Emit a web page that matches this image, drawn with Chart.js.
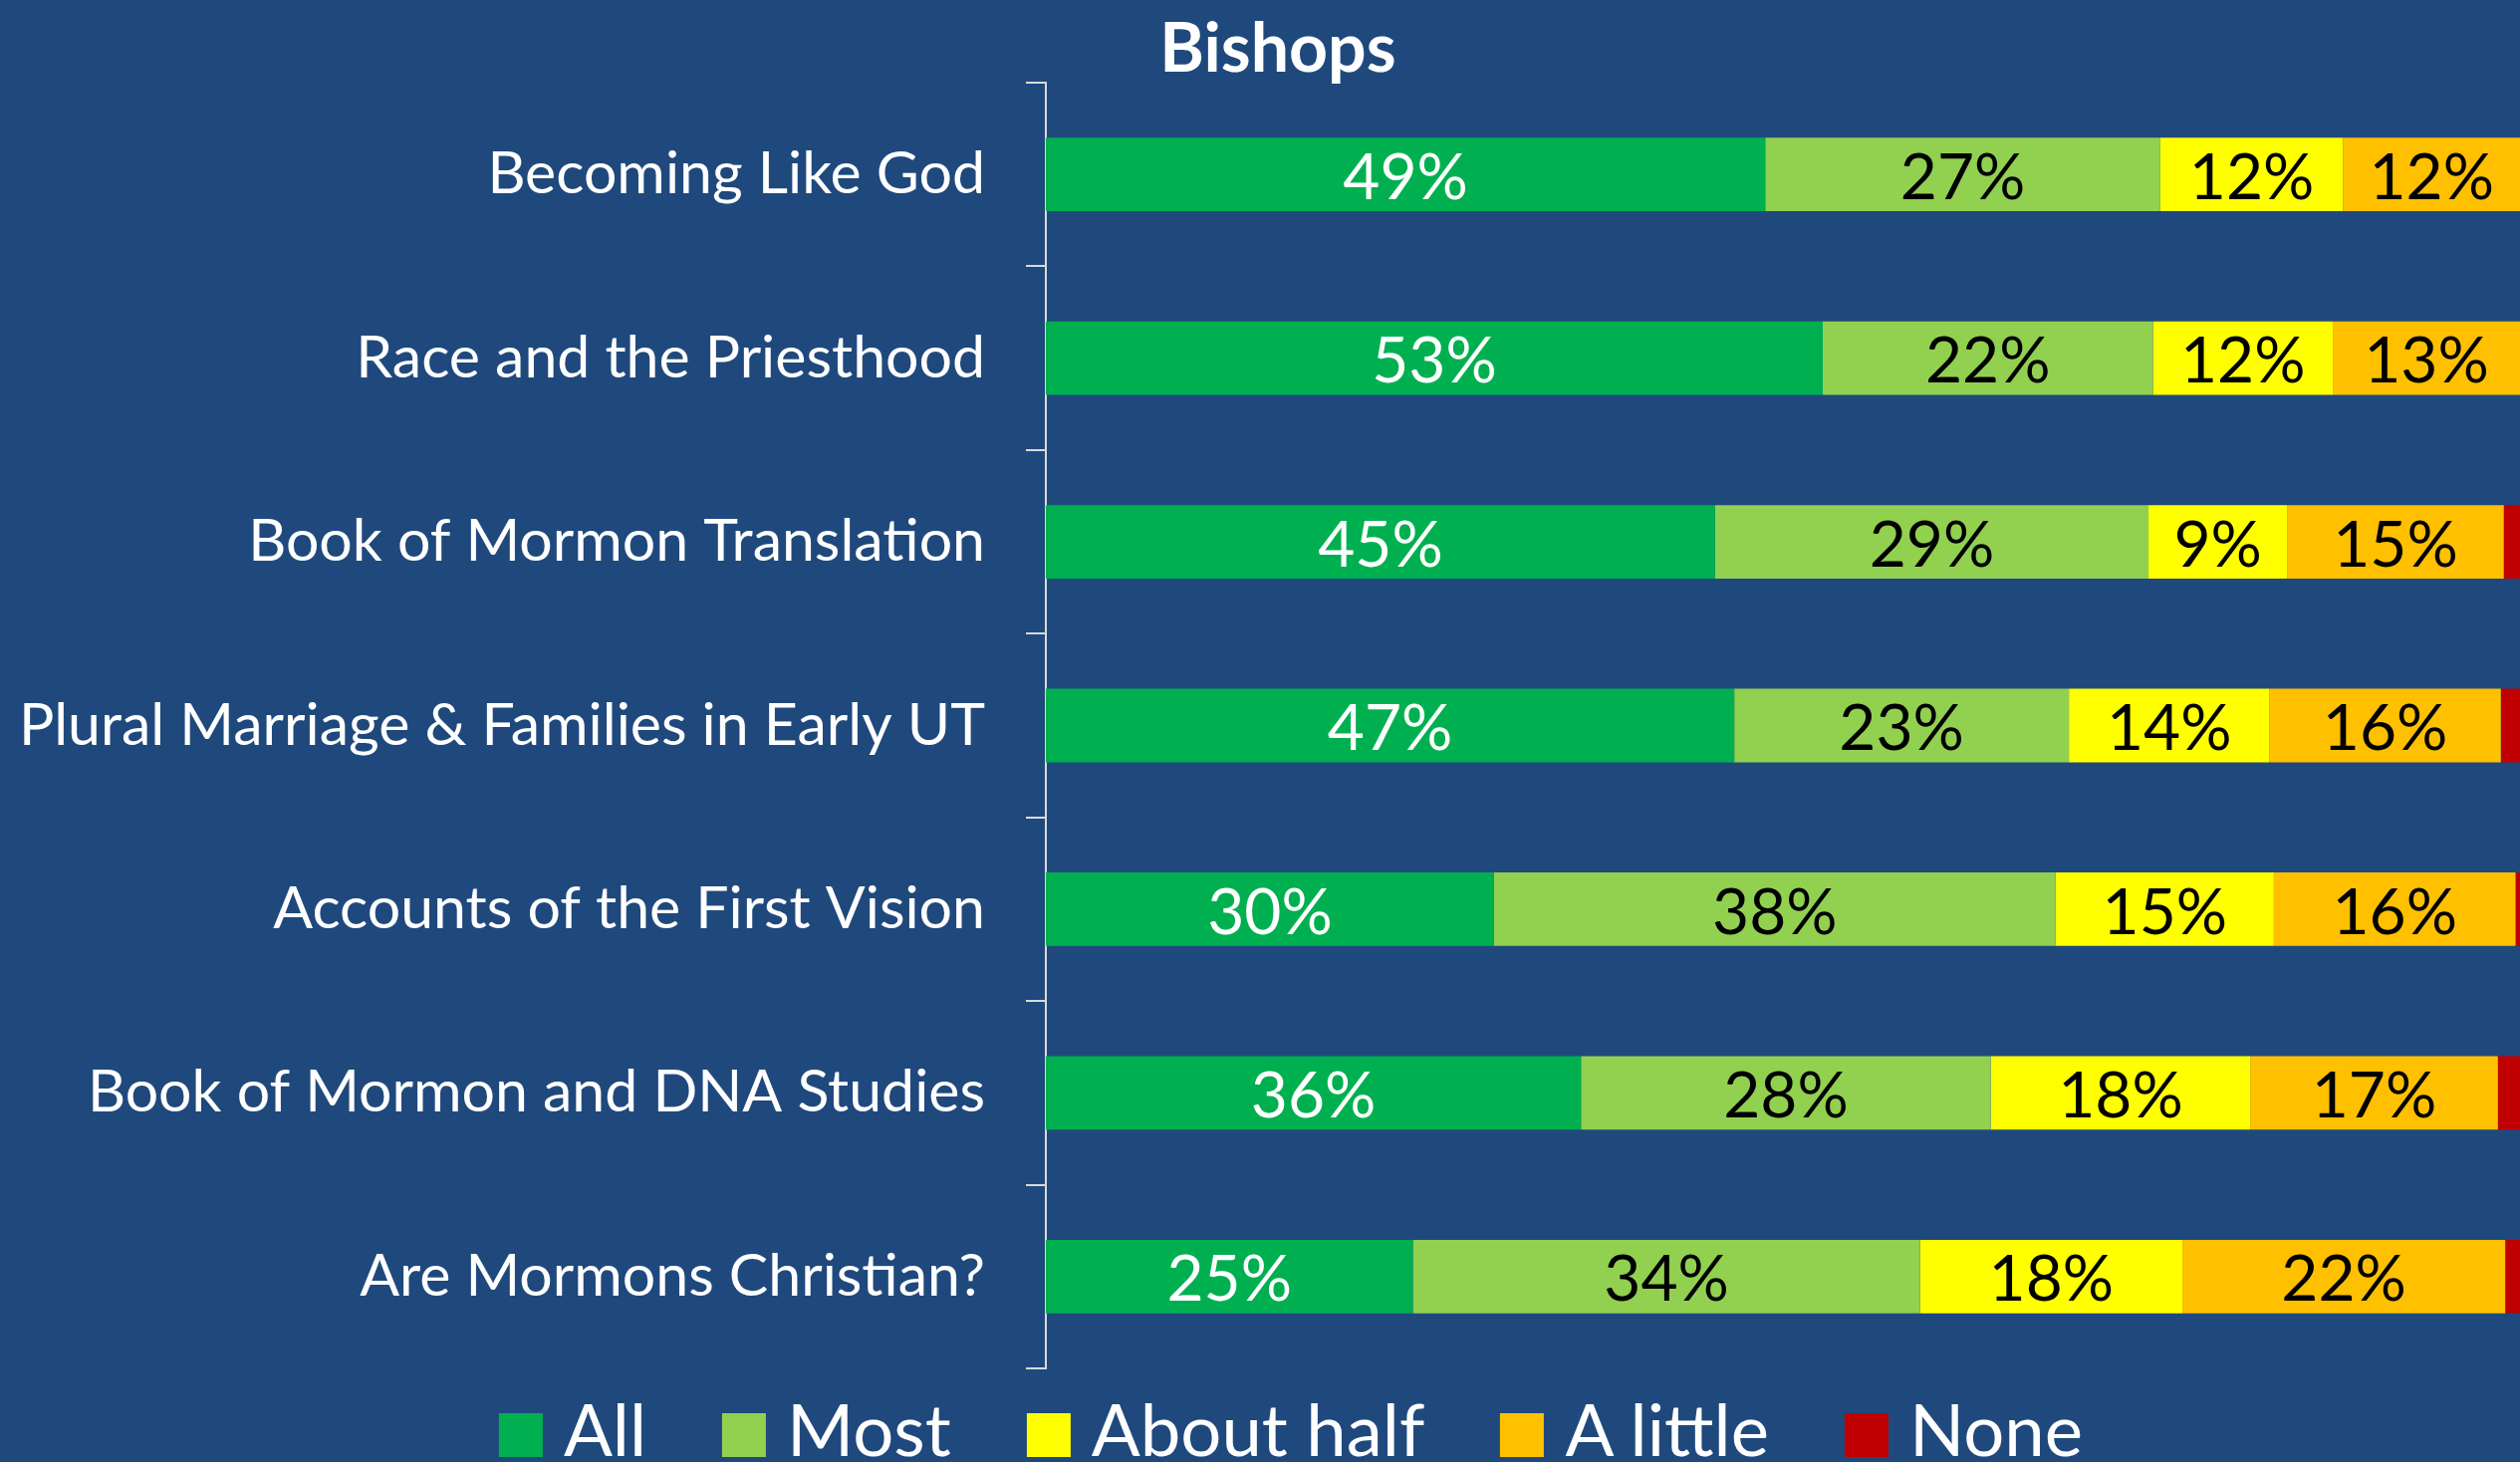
<!DOCTYPE html>
<html>
<head>
<meta charset="utf-8">
<script src="https://cdn.jsdelivr.net/npm/chart.js@4"></script>
<style>
  html, body { margin:0; padding:0; background:#1F497D; overflow:hidden; }
  #wrap { position:relative; width:2530px; height:1468px; }
  #legend { position:absolute; top:1397px; left:1296px; transform:translateX(-50%);
            display:flex; white-space:nowrap; font-family:Lato, sans-serif; font-size:72.5px;
            line-height:74px; color:#fff; }
  #legend .item { display:flex; align-items:center; margin-right:76px; }
  #legend .item:last-child { margin-right:0; }
  #legend .box { width:44px; height:44px; margin-right:21px; position:relative; top:7px; }
</style>
</head>
<body>
<div id="wrap">
  <canvas id="chart" width="2530" height="1468"></canvas>
  <div id="legend"></div>
</div>
<script>
// topics, top to bottom
const topics = [
  'Becoming Like God',
  'Race and the Priesthood',
  'Book of Mormon Translation',
  'Plural Marriage & Families in Early UT',
  'Accounts of the First Vision',
  'Book of Mormon and DNA Studies',
  'Are Mormons Christian?'
];
const seriesNames = ['All', 'Most', 'About half', 'A little', 'None'];
// percent of bishops
const allVals    = [48.8, 52.7, 45.4, 46.7, 30.4, 36.3, 24.9];
const mostVals   = [26.8, 22.4, 29.4, 22.7, 38.1, 27.8, 34.4];
const halfVals   = [12.4, 12.2,  9.4, 13.6, 14.8, 17.6, 17.8];
const littleVals = [12.0, 12.7, 14.7, 15.7, 16.4, 16.8, 21.9];
const noneVals   = [ 0.0,  0.0,  1.1,  1.3,  0.3,  1.5,  1.0];
const colors = ['#00B050', '#92D050', '#FFFF00', '#FFC000', '#C00000'];

const AXIS = '#D9D9D9';

// percentage labels inside the segments
const segmentLabels = {
  id: 'segmentLabels',
  afterLayout(chart) {
    // the title sits a little right of the canvas centre in the original
    chart.titleBlock.left = 36;
  },
  afterDatasetsDraw(chart) {
    const ctx = chart.ctx;
    ctx.save();
    ctx.font = '64px Lato';
    ctx.textAlign = 'center';
    ctx.textBaseline = 'middle';
    chart.data.datasets.forEach((ds, i) => {
      chart.getDatasetMeta(i).data.forEach((bar, j) => {
        const v = ds.data[j];
        if (v < 5) return; // too thin, cut off in the original
        ctx.fillStyle = i === 0 ? '#FFFFFF' : '#000000';
        ctx.fillText(Math.round(v) + '%', (bar.x + bar.base) / 2, bar.y + 4);
      });
    });
    ctx.restore();
  }
};

function draw() {
  const values = [allVals, mostVals, halfVals, littleVals, noneVals];
  const chart = new Chart(document.getElementById('chart'), {
    type: 'bar',
    data: {
      labels: topics,
      datasets: seriesNames.map((name, i) => ({
        label: name,
        data: values[i],
        backgroundColor: colors[i],
        borderWidth: 0,
        barPercentage: 0.4,
        categoryPercentage: 1
      }))
    },
    options: {
      indexAxis: 'y',
      responsive: false,
      animation: false,
      devicePixelRatio: 1,
      layout: { padding: { left: 0, right: 0, top: 0, bottom: 94 } },
      scales: {
        x: { stacked: true, min: 0, max: 100, display: false },
        y: {
          stacked: true,
          afterFit: (s) => { s.width = 1050; },
          border: { display: true, color: AXIS, width: 2 },
          grid: { offset: true, drawOnChartArea: false, drawTicks: true, tickLength: 20, color: AXIS, lineWidth: 2 },
          ticks: { color: '#FFFFFF', padding: 41, font: { family: 'Lato', size: 59 } }
        }
      },
      plugins: {
        legend: { display: false },
        tooltip: { enabled: false },
        title: {
          display: true,
          text: 'Bishops',
          color: '#FFFFFF',
          font: { family: 'Lato', size: 68, weight: 'bold', lineHeight: 1 },
          padding: { top: 16, bottom: -1 }
        }
      }
    },
    plugins: [segmentLabels]
  });

  // legend built from the chart's own legend items
  const legendEl = document.getElementById('legend');
  chart.options.plugins.legend.labels.generateLabels(chart).forEach(item => {
    const div = document.createElement('div');
    div.className = 'item';
    const box = document.createElement('span');
    box.className = 'box';
    box.style.background = item.fillStyle;
    div.appendChild(box);
    div.appendChild(document.createTextNode(item.text));
    legendEl.appendChild(div);
  });
}

Promise.all([
  document.fonts.load('59px Lato'),
  document.fonts.load('bold 68px Lato')
]).then(draw, draw);
</script>
</body>
</html>
